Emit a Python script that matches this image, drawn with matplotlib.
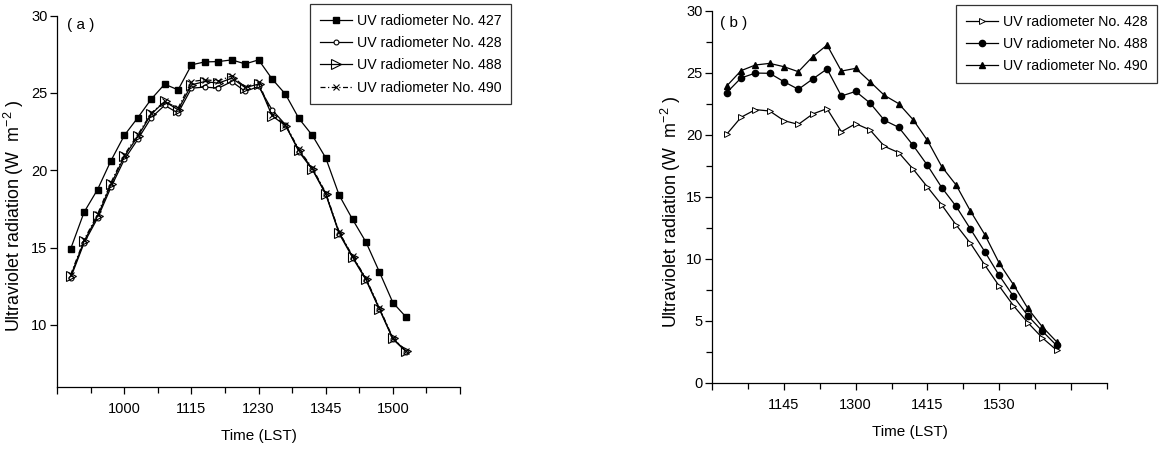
import matplotlib
matplotlib.use("Agg")
import matplotlib.pyplot as plt
from matplotlib.ticker import FixedLocator, FixedFormatter, MultipleLocator

plt.rcParams["font.family"] = ["Liberation Sans", "DejaVu Sans"]
plt.rcParams["mathtext.fontset"] = "custom"
plt.rcParams["mathtext.rm"] = "Liberation Sans"
plt.rcParams["mathtext.it"] = "Liberation Sans"

# ---- Panel (a): four radiometers side by side ----
times_a = ["0900", "0915", "0930", "0945", "1000", "1015", "1030", "1045", "1100",
           "1115", "1130", "1145", "1200", "1215", "1230", "1245", "1300", "1315",
           "1330", "1345", "1400", "1415", "1430", "1445", "1500", "1515"]
uv427_a = [14.92, 17.29, 18.75, 20.62, 22.26, 23.40, 24.60, 25.57, 25.20, 26.82,
           27.01, 27.03, 27.14, 26.88, 27.14, 25.91, 24.92, 23.35, 22.26, 20.80,
           18.39, 16.82, 15.35, 13.42, 11.44, 10.49]
uv428_a = [13.05, 15.30, 16.90, 18.90, 20.70, 22.00, 23.40, 24.20, 23.70, 25.31,
           25.38, 25.31, 25.74, 25.10, 25.42, 23.91, 22.95, 21.20, 20.05, 18.45,
           15.90, 14.35, 12.90, 11.00, 9.08, 8.25]
uv488_a = [13.16, 15.42, 17.03, 19.08, 20.90, 22.19, 23.63, 24.45, 23.91, 25.53,
           25.74, 25.63, 25.96, 25.35, 25.57, 23.53, 22.88, 21.29, 20.09, 18.49,
           15.96, 14.41, 12.95, 11.05, 9.12, 8.28]
uv490_a = [13.25, 15.50, 17.15, 19.20, 21.00, 22.30, 23.70, 24.45, 24.02, 25.74,
           25.85, 25.78, 26.10, 25.38, 25.68, 23.60, 22.95, 21.35, 20.15, 18.55,
           16.00, 14.45, 13.00, 11.10, 9.15, 8.30]
ticks_a = ["", "1000", "1115", "1230", "1345", "1500", ""]
tick_pos_a = ["0845", "1000", "1115", "1230", "1345", "1500", "1615"]

# ---- Panel (b): three radiometers ----
times_b = ["1045", "1100", "1115", "1130", "1145", "1200", "1215", "1230", "1245",
           "1300", "1315", "1330", "1345", "1400", "1415", "1430", "1445", "1500",
           "1515", "1530", "1545", "1600", "1615", "1630"]
uv428_b = [20.03, 21.40, 22.02, 21.91, 21.13, 20.83, 21.67, 22.10, 20.24, 20.89,
           20.38, 19.06, 18.55, 17.23, 15.78, 14.33, 12.72, 11.24, 9.49, 7.80,
           6.21, 4.84, 3.63, 2.63]
uv488_b = [23.39, 24.57, 24.97, 24.95, 24.27, 23.66, 24.49, 25.30, 23.12, 23.49,
           22.55, 21.16, 20.59, 19.14, 17.53, 15.73, 14.22, 12.39, 10.56, 8.66,
           6.96, 5.40, 4.17, 3.01]
uv490_b = [23.92, 25.16, 25.62, 25.75, 25.48, 25.08, 26.29, 27.23, 25.13, 25.35,
           24.27, 23.17, 22.50, 21.21, 19.54, 17.42, 15.94, 13.84, 11.94, 9.65,
           7.90, 5.99, 4.52, 3.31]
ticks_b = ["", "1145", "1300", "1415", "1530", ""]
tick_pos_b = ["1030", "1145", "1300", "1415", "1530", "1645"]


def minutes(hhmm):
    return int(hhmm[:2]) * 60 + int(hhmm[2:])


FS = 10.5
LEG_FS = 10.2
YLABEL = r"Ultraviolet radiation (W  m$^{-2}$ )"

fig = plt.figure(figsize=(11.71, 4.49), dpi=100)


def style_axes(ax, major_x, labels_x, xlim, ylim, ymajor, ylabel_x, yminor=None):
    for s in ("top", "right"):
        ax.spines[s].set_visible(False)
    for s in ("left", "bottom"):
        ax.spines[s].set_linewidth(0.9)
    ax.set_xlim(*xlim)
    ax.set_ylim(*ylim)
    ax.xaxis.set_major_locator(FixedLocator(major_x))
    ax.xaxis.set_major_formatter(FixedFormatter(labels_x))
    minor = [(a + b) / 2 for a, b in zip(major_x[:-1], major_x[1:])]
    if xlim[1] > major_x[-1]:
        minor.append(xlim[1])
    ax.xaxis.set_minor_locator(FixedLocator(minor))
    ax.yaxis.set_major_locator(FixedLocator(ymajor))
    if yminor:
        ax.yaxis.set_minor_locator(MultipleLocator(yminor))
    ax.tick_params(axis="both", which="major", direction="out", length=5,
                   width=0.9, labelsize=FS)
    ax.tick_params(axis="both", which="minor", direction="out", length=4, width=0.9)
    ax.tick_params(axis="x", pad=6)
    ax.tick_params(axis="y", pad=2)
    ax.set_xlabel("Time (LST)", fontsize=11, labelpad=9.5)
    ax.set_ylabel(YLABEL, fontsize=12.9)
    ax.yaxis.set_label_coords(ylabel_x, 0.46)


def add_legend(ax, x_px, y_px):
    leg = ax.legend(loc="upper left", bbox_to_anchor=(x_px / 1171, 1 - y_px / 449),
                    bbox_transform=fig.transFigure, fontsize=LEG_FS, frameon=True,
                    fancybox=False, edgecolor="#333333", framealpha=1,
                    handlelength=2.3, handletextpad=0.35, labelspacing=0.58,
                    borderpad=0.68, borderaxespad=0)
    leg.get_frame().set_linewidth(0.9)
    return leg


lw = 0.9

# Panel (a)
ax1 = fig.add_axes([0.0489, 0.1388, 0.3439, 0.8263])
xa = [minutes(t) for t in times_a]
ax1.plot(xa, uv427_a, "-", color="black", lw=lw, marker="s", ms=4,
         mfc="black", mec="black", label="UV radiometer No. 427")
ax1.plot(xa, uv428_a, "-", color="black", lw=lw, marker="o", ms=3.5,
         mfc="white", mec="black", mew=0.8, label="UV radiometer No. 428")
ax1.plot(xa, uv488_a, "-", color="black", lw=lw, marker=">", ms=7,
         mfc="none", mec="black", mew=0.8, label="UV radiometer No. 488")
ax1.plot(xa, uv490_a, color="black", lw=lw, ls=(0, (4, 2, 1, 2)), marker="x",
         ms=4.5, mec="black", mew=0.8, label="UV radiometer No. 490")
style_axes(ax1, [minutes(t) for t in tick_pos_a], ticks_a,
           (minutes("0845"), minutes("1615")), (6, 30), [10, 15, 20, 25, 30],
           ylabel_x=-0.078)
ax1.text(0.025, 0.975, "( a )", transform=ax1.transAxes, fontsize=11,
         va="center", ha="left")
add_legend(ax1, 310, 4.3)

# Panel (b)
ax2 = fig.add_axes([0.6083, 0.1477, 0.3368, 0.8285])
xb = [minutes(t) for t in times_b]
ax2.plot(xb, uv428_b, "-", color="black", lw=lw, marker=">", ms=4.5,
         mfc="white", mec="black", mew=0.7, label="UV radiometer No. 428")
ax2.plot(xb, uv488_b, "-", color="black", lw=lw, marker="o", ms=4.5,
         mfc="black", mec="black", label="UV radiometer No. 488")
ax2.plot(xb, uv490_b, "-", color="black", lw=lw, marker="^", ms=5,
         mfc="black", mec="black", label="UV radiometer No. 490")
style_axes(ax2, [minutes(t) for t in tick_pos_b], ticks_b,
           (minutes("1030"), minutes("1645") + 37.5), (0, 30),
           [0, 5, 10, 15, 20, 25, 30], ylabel_x=-0.0743, yminor=2.5)
ax2.text(0.02, 0.967, "( b )", transform=ax2.transAxes, fontsize=11,
         va="center", ha="left")
add_legend(ax2, 956, 5.3)

fig.savefig("out.png", dpi=100)
